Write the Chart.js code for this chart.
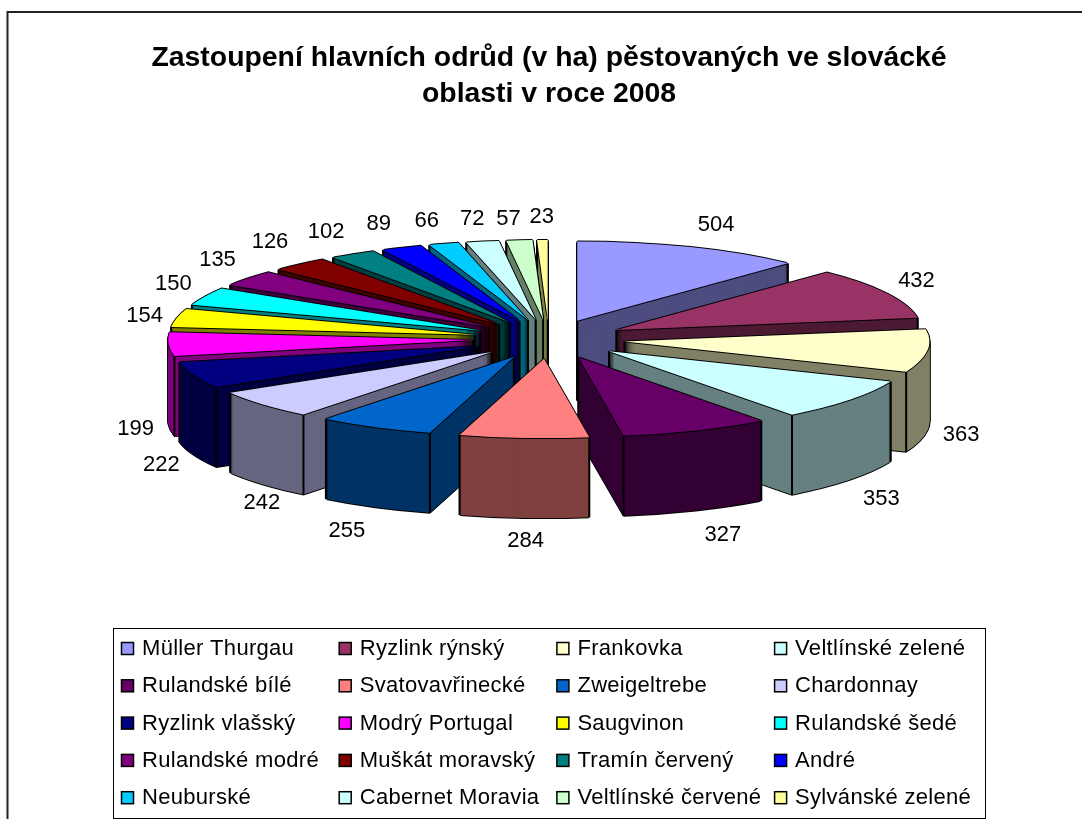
<!DOCTYPE html>
<html>
<head>
<meta charset="utf-8">
<title>Zastoupení hlavních odrůd</title>
<script src="https://cdn.jsdelivr.net/npm/chart.js@4"></script>
<style>
    html, body { margin: 0; padding: 0; background: #fff; overflow: hidden; }
    canvas { display: block; }
</style>
</head>
<body>
<canvas id="odrudy" width="1082" height="819"></canvas>
<script>
const titleLines = ['Zastoupení hlavních odrůd (v ha) pěstovaných ve slovácké', 'oblasti v roce 2008'];

const categories = [
    'Müller Thurgau', 'Ryzlink rýnský', 'Frankovka', 'Veltlínské zelené',
    'Rulandské bílé', 'Svatovavřinecké', 'Zweigeltrebe', 'Chardonnay',
    'Ryzlink vlašský', 'Modrý Portugal', 'Saugvinon', 'Rulandské šedé',
    'Rulandské modré', 'Muškát moravský', 'Tramín červený', 'André',
    'Neuburské', 'Cabernet Moravia', 'Veltlínské červené', 'Sylvánské zelené'
];

const hectares = [504, 432, 363, 353, 327, 284, 255, 242, 222, 199, 154, 150, 135, 126, 102, 89, 66, 72, 57, 23];

const sliceColors = [
    '#9999FF', '#993366', '#FFFFCC', '#CCFFFF',
    '#660066', '#FF8080', '#0066CC', '#CCCCFF',
    '#000080', '#FF00FF', '#FFFF00', '#00FFFF',
    '#800080', '#800000', '#008080', '#0000FF',
    '#00CCFF', '#CCFFFF', '#CCFFCC', '#FFFF99'
];

// look of the fake 3D pie
const TILT = 0.26;
const EXPLODE = 76;
const DEPTH = 80;
const OUTLINE = [[-1, 0], [1, 0], [0, -1], [0, 1]];

// hand tweaks for the value labels, the automatic spot is not always where Excel put them
const LABEL_NUDGE = [
    [12, 0], [-2, -1], [-2, 1], [3, 4], [13, 2], [4, -1], [-12, 2], [26, 3], [1, 1], [3, 3],
    [3, 3], [1, -2], [-2, -4], [-6, -4], [-8, -2], [-9, -2], [-7, 0], [-4, 1], [-8, 3], [0, 1]
];

function wallColor(hex) {
    const n = parseInt(hex.slice(1), 16);
    const half = v => Math.round(v / 2);
    return `rgb(${half(n >> 16)}, ${half((n >> 8) & 255)}, ${half(n & 255)})`;
}

function sliceOffset(el) {
    const mid = (el.startAngle + el.endAngle) / 2;
    return { x: Math.cos(mid) * EXPLODE, y: Math.sin(mid) * EXPLODE * TILT };
}

// draws the library's arc squashed to an ellipse, moved by (ox, oy) on screen
function paintArc(ctx, el, color, ox, oy) {
    const saved = el.options;
    const off = sliceOffset(el);
    el.options = Object.assign({}, saved, { backgroundColor: color, borderWidth: 0 });
    ctx.save();
    ctx.translate(el.x + off.x + ox, el.y + off.y + oy);
    ctx.scale(1, TILT);
    ctx.translate(-el.x, -el.y);
    el.draw(ctx);
    ctx.restore();
    el.options = saved;
}

function verticalEdge(ctx, x, y) {
    ctx.beginPath();
    ctx.moveTo(x, y);
    ctx.lineTo(x, y + DEPTH);
    ctx.stroke();
}

function paintWalls(ctx, el, color) {
    for (let d = DEPTH; d > 0; d--) {
        OUTLINE.forEach(o => paintArc(ctx, el, '#000', o[0], d + o[1]));
    }
    for (let d = DEPTH; d > 0; d--) {
        paintArc(ctx, el, color, 0, d);
    }

    const off = sliceOffset(el);
    const ax = el.x + off.x;
    const ay = el.y + off.y;
    const r = el.outerRadius;
    const startFront = Math.cos(el.startAngle) < -1e-6;
    const endFront = Math.cos(el.endAngle) > 1e-6;

    ctx.save();
    ctx.strokeStyle = '#000';
    ctx.lineWidth = 2;
    if (startFront || endFront) verticalEdge(ctx, ax, ay);
    if (startFront || Math.sin(el.startAngle) > 0) {
        verticalEdge(ctx, ax + Math.cos(el.startAngle) * r, ay + Math.sin(el.startAngle) * r * TILT);
    }
    if (endFront || Math.sin(el.endAngle) > 0) {
        verticalEdge(ctx, ax + Math.cos(el.endAngle) * r, ay + Math.sin(el.endAngle) * r * TILT);
    }
    ctx.restore();
}

function paintTop(ctx, el, color) {
    OUTLINE.forEach(o => paintArc(ctx, el, '#000', o[0], o[1]));
    paintArc(ctx, el, color, 0, 0);
}

function paintValue(ctx, el, value, nudge) {
    const mid = (el.startAngle + el.endAngle) / 2;
    const off = sliceOffset(el);
    const front = Math.sin(mid) > 0;
    const x = el.x + off.x + Math.cos(mid) * (el.outerRadius + 36) + nudge[0];
    const y = el.y + off.y + Math.sin(mid) * (el.outerRadius * TILT + 24) + (front ? DEPTH : 0) + nudge[1];
    ctx.fillText(String(value), x, y);
}

const pie3d = {
    id: 'pie3d',
    beforeDatasetsDraw(chart) {
        const ctx = chart.ctx;
        const arcs = chart.getDatasetMeta(0).data;
        const order = arcs.map((el, i) => i).sort((a, b) => {
            const midA = (arcs[a].startAngle + arcs[a].endAngle) / 2;
            const midB = (arcs[b].startAngle + arcs[b].endAngle) / 2;
            return Math.sin(midA) - Math.sin(midB);
        });
        order.forEach(i => {
            paintWalls(ctx, arcs[i], wallColor(sliceColors[i]));
            paintTop(ctx, arcs[i], sliceColors[i]);
        });

        ctx.save();
        ctx.fillStyle = '#000';
        ctx.font = "22px 'Liberation Sans'";
        ctx.textAlign = 'center';
        ctx.textBaseline = 'middle';
        arcs.forEach((el, i) => paintValue(ctx, el, hectares[i], LABEL_NUDGE[i]));
        ctx.restore();
        return false;
    },
    afterDraw(chart) {
        const ctx = chart.ctx;
        ctx.save();

        // outer frame of the embedded chart, it runs off the page right and bottom
        ctx.strokeStyle = '#222';
        ctx.lineWidth = 2;
        ctx.beginPath();
        ctx.moveTo(7.5, 819);
        ctx.lineTo(7.5, 12);
        ctx.lineTo(1082, 12);
        ctx.stroke();

        // legend box
        ctx.lineWidth = 1;
        ctx.strokeStyle = '#000';
        ctx.strokeRect(113.5, 628.5, 872, 190);

        ctx.font = "22px 'Liberation Sans'";
        ctx.letterSpacing = '0.3px';
        ctx.textBaseline = 'middle';
        categories.forEach((name, i) => {
            const col = i % 4;
            const row = Math.floor(i / 4);
            const x = 121 + col * 217.7;
            const y = 648 + row * 37.3;
            ctx.fillStyle = sliceColors[i];
            ctx.fillRect(x + 0.5, y - 5.5, 12, 12);
            ctx.strokeStyle = '#000';
            ctx.lineWidth = 1.5;
            ctx.strokeRect(x + 0.5, y - 5.5, 12, 12);
            ctx.fillStyle = '#000';
            ctx.fillText(name, x + 21, y + 1);
        });
        ctx.restore();
    }
};

new Chart(document.getElementById('odrudy'), {
    type: 'pie',
    data: {
        labels: categories,
        datasets: [{
            data: hectares,
            backgroundColor: sliceColors,
            borderWidth: 0,
            radius: 305
        }]
    },
    options: {
        responsive: false,
        animation: false,
        layout: { padding: { left: 16, right: 0, top: 40, bottom: 263 } },
        plugins: {
            legend: { display: false },
            tooltip: { enabled: false },
            title: {
                display: true,
                text: titleLines,
                color: '#000',
                fullSize: false,
                font: { family: "'Liberation Sans'", size: 28.4, weight: 'bold', lineHeight: 1.27 },
                padding: { top: 0, bottom: 10 }
            }
        }
    },
    plugins: [pie3d]
});
</script>
</body>
</html>
